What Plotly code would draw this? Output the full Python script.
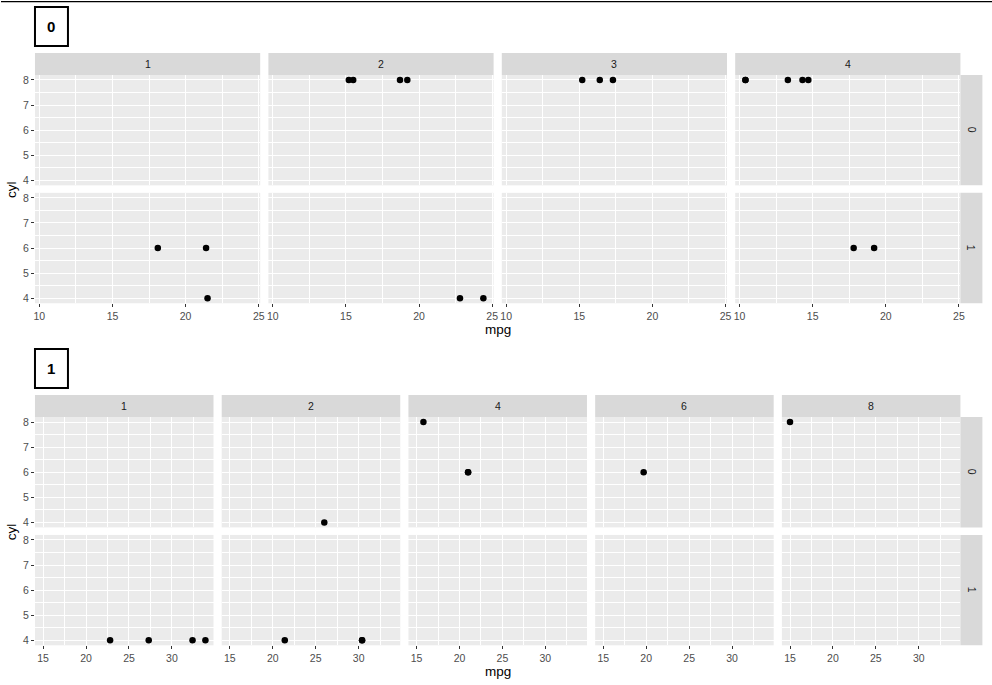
import plotly.graph_objects as go

# ---- data (mtcars) ----
mpg  = [21.0, 21.0, 22.8, 21.4, 18.7, 18.1, 14.3, 24.4, 22.8, 19.2, 17.8, 16.4, 17.3, 15.2,
        10.4, 10.4, 14.7, 32.4, 30.4, 33.9, 21.5, 15.5, 15.2, 13.3, 19.2, 27.3, 26.0, 30.4,
        15.8, 19.7, 15.0, 21.4]
cyl  = [6, 6, 4, 6, 8, 6, 8, 4, 4, 6, 6, 8, 8, 8, 8, 8, 8, 4, 4, 4, 4, 8, 8, 8, 8, 4, 4, 4,
        8, 6, 8, 4]
vs   = [0, 0, 1, 1, 0, 1, 0, 1, 1, 1, 1, 0, 0, 0, 0, 0, 0, 1, 1, 1, 1, 0, 0, 0, 0, 1, 0, 1,
        0, 0, 0, 1]
am   = [1, 1, 1, 0, 0, 0, 0, 0, 0, 0, 0, 0, 0, 0, 0, 0, 0, 1, 1, 1, 0, 0, 0, 0, 0, 1, 1, 1,
        1, 1, 1, 1]
carb = [4, 4, 1, 1, 2, 1, 4, 2, 2, 4, 4, 3, 3, 3, 4, 4, 4, 1, 2, 1, 1, 2, 2, 4, 2, 1, 2, 2,
        4, 6, 8, 2]

am_levels = [0, 1]
vs_levels = [0, 1]
x_ticks = {0: [10, 15, 20, 25], 1: [15, 20, 25, 30]}
y_ticks = [4, 5, 6, 7, 8]

W, H = 992, 685
WX = 986.6
HY = 683.5
FONT = "Liberation Sans, Arial, sans-serif"

def px_x(a):
    return a / WX

def px_y(a):
    return 1 - a / HY

fig = go.Figure()
layout = {}
shapes = []
annotations = []

# top rule line
shapes.append(dict(type="rect", xref="paper", yref="paper", x0=0, x1=1.01,
                   y0=px_y(1.3), y1=1, fillcolor="black", line=dict(width=0)))

ymin, ymax = min(cyl), max(cyl)
ypad = 0.05 * (ymax - ymin)
yrange = [ymin - ypad, ymax + ypad]

LEFT, RIGHT = 34, 960
idx = 0
for s, a in enumerate(am_levels):
    off = s * 342.3
    strip_top = 52 + off
    strip_bot = 74 + off
    row_h = 110.5
    rgap = 7.5
    rows = [(strip_bot, strip_bot + row_h),
            (strip_bot + row_h + rgap, strip_bot + 2 * row_h + rgap)]
    sel = [i for i in range(len(mpg)) if am[i] == a]
    carbs = sorted(set(carb[i] for i in sel))
    xs = [mpg[i] for i in sel]
    xmin, xmax = min(xs), max(xs)
    xpad = 0.05 * (xmax - xmin)
    xrange = [xmin - xpad, xmax + xpad]
    ncol = len(carbs)
    cgap = 8.2
    colw = (RIGHT - LEFT - cgap * (ncol - 1)) / ncol

    # label box
    bx0, bx1, by0, by1 = 34, 67, 6 + off, 45 + off
    shapes.append(dict(type="rect", xref="paper", yref="paper",
                       x0=px_x(bx0), x1=px_x(bx1), y0=px_y(by1), y1=px_y(by0),
                       fillcolor="white", line=dict(color="black", width=2)))
    annotations.append(dict(text="<b>%d</b>" % a, xref="paper", yref="paper",
                            x=px_x((bx0 + bx1) / 2), y=px_y((by0 + by1) / 2),
                            showarrow=False, xanchor="center", yanchor="middle",
                            font=dict(size=15, color="black", family=FONT)))

    for r, v in enumerate(vs_levels):
        ytop, ybot = rows[r]
        for c, cb in enumerate(carbs):
            idx += 1
            sfx = "" if idx == 1 else str(idx)
            x0 = LEFT + c * (colw + cgap)
            x1 = x0 + colw
            pts = [i for i in sel if vs[i] == v and carb[i] == cb]
            fig.add_trace(go.Scatter(
                x=[mpg[i] for i in pts], y=[cyl[i] for i in pts],
                mode="markers", marker=dict(color="black", size=6.5),
                xaxis="x" + sfx, yaxis="y" + sfx, showlegend=False,
                hoverinfo="skip"))
            bottom = (r == len(vs_levels) - 1)
            left = (c == 0)
            layout["xaxis" + sfx] = dict(
                domain=[px_x(x0), px_x(x1)], range=xrange, anchor="y" + sfx,
                tickmode="array", tickvals=x_ticks[a],
                showticklabels=bottom, ticks="outside" if bottom else "",
                ticklen=3, tickwidth=1, tickcolor="#333333",
                tickfont=dict(size=10.5, color="#4D4D4D", family=FONT),
                showgrid=True, gridcolor="white", gridwidth=1.1,
                minor=dict(tickmode="linear", tick0=x_ticks[a][0] - 2.5, dtick=5,
                           showgrid=True, gridcolor="white", gridwidth=0.55, ticks=""),
                zeroline=False, showline=False, fixedrange=True)
            layout["yaxis" + sfx] = dict(
                domain=[px_y(ybot), px_y(ytop)], range=yrange, anchor="x" + sfx,
                tickmode="array", tickvals=y_ticks,
                showticklabels=left, ticks="outside" if left else "",
                ticklen=3, tickwidth=1, tickcolor="#333333",
                tickfont=dict(size=10.5, color="#4D4D4D", family=FONT),
                showgrid=True, gridcolor="white", gridwidth=1.1,
                minor=dict(tickmode="linear", tick0=3.5, dtick=1,
                           showgrid=True, gridcolor="white", gridwidth=0.55, ticks=""),
                zeroline=False, showline=False, fixedrange=True)
            # top strip
            if r == 0:
                shapes.append(dict(type="rect", xref="paper", yref="paper",
                                   x0=px_x(x0), x1=px_x(x1),
                                   y0=px_y(strip_bot), y1=px_y(strip_top),
                                   fillcolor="#D9D9D9", line=dict(width=0)))
                annotations.append(dict(text=str(cb), xref="paper", yref="paper",
                                        x=px_x((x0 + x1) / 2),
                                        y=px_y((strip_top + strip_bot) / 2),
                                        showarrow=False, xanchor="center",
                                        yanchor="middle",
                                        font=dict(size=10.5, color="#1A1A1A",
                                                  family=FONT)))
        # right strip
        shapes.append(dict(type="rect", xref="paper", yref="paper",
                           x0=px_x(RIGHT), x1=px_x(RIGHT + 22),
                           y0=px_y(ybot), y1=px_y(ytop),
                           fillcolor="#D9D9D9", line=dict(width=0)))
        annotations.append(dict(text=str(v), xref="paper", yref="paper",
                                x=px_x(RIGHT + 11), y=px_y((ytop + ybot) / 2),
                                showarrow=False, xanchor="center", yanchor="middle",
                                textangle=90,
                                font=dict(size=10.5, color="#1A1A1A", family=FONT)))

    # axis titles
    annotations.append(dict(text="mpg", xref="paper", yref="paper",
                            x=px_x((LEFT + RIGHT) / 2), y=px_y(rows[1][1] + 26),
                            showarrow=False, xanchor="center", yanchor="middle",
                            font=dict(size=13.5, color="black", family=FONT)))
    annotations.append(dict(text="cyl", xref="paper", yref="paper",
                            x=px_x(10), y=px_y((rows[0][0] + rows[1][1]) / 2),
                            showarrow=False, xanchor="center", yanchor="middle",
                            textangle=-90,
                            font=dict(size=13.5, color="black", family=FONT)))

fig.update_layout(**layout)
fig.update_layout(
    width=W, height=H, margin=dict(l=0, r=0, t=0, b=0),
    paper_bgcolor="white", plot_bgcolor="#EBEBEB",
    shapes=shapes, annotations=annotations, showlegend=False,
    font=dict(family=FONT),
)
fig.write_html("out.html")
